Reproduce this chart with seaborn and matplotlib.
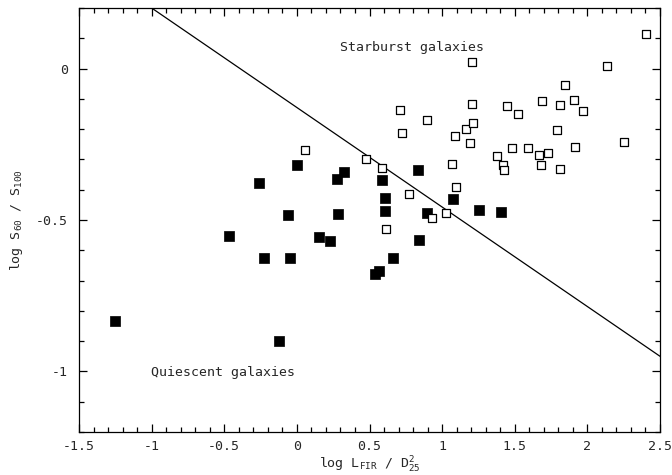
import matplotlib
matplotlib.use("Agg")
import matplotlib.pyplot as plt
import seaborn as sns
import pandas as pd
from matplotlib.ticker import MultipleLocator

sns.set_theme(style="ticks")
plt.rcParams['font.family'] = ['DejaVu Sans Mono', 'DejaVu Sans']
plt.rcParams['mathtext.fontset'] = 'custom'
plt.rcParams['mathtext.rm'] = 'DejaVu Sans Mono'
plt.rcParams['mathtext.it'] = 'DejaVu Sans Mono'
plt.rcParams['axes.unicode_minus'] = False

# Quiescent galaxies (filled squares)
quiescent_x = [-1.251, -0.470, -0.264, -0.225, -0.124, -0.062, -0.050, 0.002, 0.154,
               0.227, 0.273, 0.282, 0.326, 0.540, 0.567, 0.588, 0.610, 0.610, 0.663,
               0.831, 0.840, 0.897, 1.074, 1.253, 1.402]
quiescent_y = [-0.833, -0.553, -0.377, -0.624, -0.900, -0.485, -0.626, -0.318, -0.555,
               -0.568, -0.366, -0.480, -0.342, -0.679, -0.669, -0.368, -0.426, -0.469, -0.627,
               -0.334, -0.566, -0.478, -0.430, -0.467, -0.475]

# Starburst galaxies (open squares)
starburst_x = [0.055, 0.475, 0.583, 0.613, 0.709, 0.725, 0.773, 0.893, 0.929, 1.028,
               1.065, 1.090, 1.097, 1.161, 1.191, 1.203, 1.209, 1.214, 1.379, 1.416,
               1.425, 1.450, 1.482, 1.519, 1.590, 1.666, 1.680, 1.689, 1.728, 1.792,
               1.811, 1.813, 1.845, 1.905, 1.916, 1.967, 2.137, 2.254, 2.407]
starburst_y = [-0.268, -0.297, -0.328, -0.531, -0.136, -0.213, -0.415, -0.169, -0.492, -0.478,
               -0.316, -0.221, -0.392, -0.199, -0.246, -0.116, 0.022, -0.180, -0.288, -0.319,
               -0.334, -0.123, -0.263, -0.149, -0.263, -0.286, -0.320, -0.106, -0.278, -0.203,
               -0.121, -0.333, -0.053, -0.103, -0.259, -0.139, 0.010, -0.241, 0.114]

# Dividing line
line_x = [-1.0, 2.5]
line_y = [0.2, -0.95]

x_ticks = [-1.5, -1, -0.5, 0, 0.5, 1, 1.5, 2, 2.5]
x_tick_labels = ["-1.5", "-1", "-0.5", "0", "0.5", "1", "1.5", "2", "2.5"]
y_ticks = [-1, -0.5, 0]
y_tick_labels = ["-1", "-0.5", "0"]

fig = plt.figure(figsize=(6.72, 4.75), dpi=100)
ax = fig.add_axes([79/672, 43/475, 581/672, 424/475])

sns.lineplot(x=line_x, y=line_y, ax=ax, color='black', linewidth=0.9)
sns.scatterplot(x=quiescent_x, y=quiescent_y, ax=ax, marker='s', s=52,
                color='black', edgecolor='black', linewidth=0.5, zorder=3)
sns.scatterplot(x=starburst_x, y=starburst_y, ax=ax, marker='s', s=38,
                facecolor='white', edgecolor='black', linewidth=0.9, zorder=3)

ax.set_xlim(-1.5, 2.5)
ax.set_ylim(-1.2, 0.2)
ax.set_xticks(x_ticks)
ax.set_xticklabels(x_tick_labels)
ax.set_yticks(y_ticks)
ax.set_yticklabels(y_tick_labels)
ax.xaxis.set_minor_locator(MultipleLocator(0.1))
ax.yaxis.set_minor_locator(MultipleLocator(0.1))
ax.tick_params(which='both', direction='in', top=True, right=True, color='black',
               labelsize=9.5, width=0.9)
ax.tick_params(axis='x', which='major', length=6, pad=6)
ax.tick_params(axis='y', which='major', length=6, pad=8)
ax.tick_params(which='minor', length=3.5)
for sp in ax.spines.values():
    sp.set_visible(True)
    sp.set_color('black')
    sp.set_linewidth(0.9)
ax.set_facecolor('white')

ax.set_xlabel(r'log $\mathregular{L_{FIR}}$ / $\mathregular{D^2_{25}}$', fontsize=9.5, labelpad=1)
ax.set_ylabel(r'log $\mathregular{S_{60}}$ / $\mathregular{S_{100}}$', fontsize=9.5, labelpad=8)

ax.text(0.296, 0.07, 'Starburst galaxies', fontsize=9.5, va='center', ha='left')
ax.text(-1.007, -1.002, 'Quiescent galaxies', fontsize=9.5, va='center', ha='left')

fig.savefig('out.png', dpi=100)
